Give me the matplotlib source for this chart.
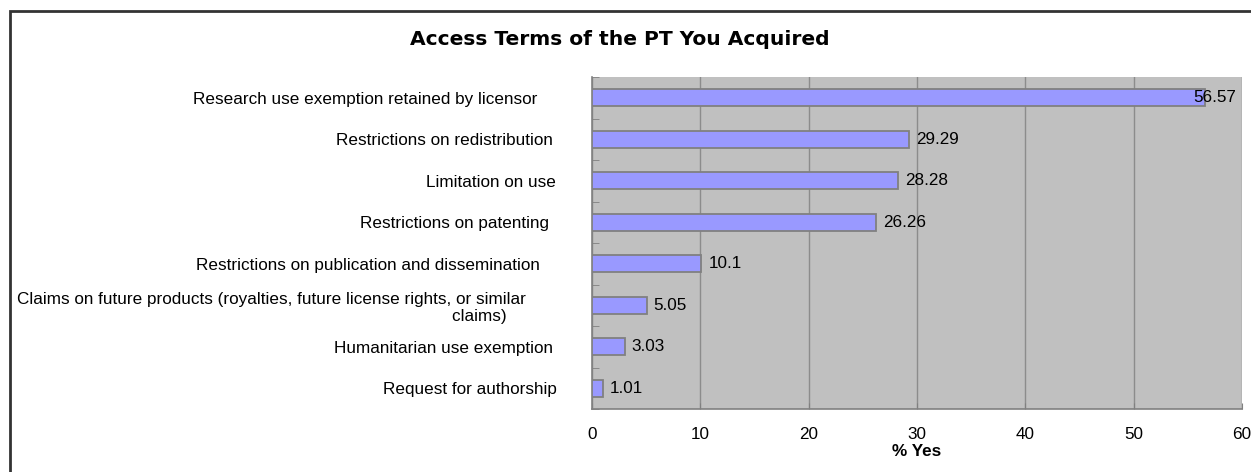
import matplotlib
matplotlib.use("Agg")
import matplotlib.pyplot as plt
from matplotlib.patches import Rectangle
import numpy as np

categories = [
    "Research use exemption retained by licensor",
    "Restrictions on redistribution",
    "Limitation on use",
    "Restrictions on patenting",
    "Restrictions on publication and dissemination",
    "Claims on future products (royalties, future license rights, or similar\nclaims)    ",
    "Humanitarian use exemption",
    "Request for authorship",
]
values = [56.57, 29.29, 28.28, 26.26, 10.1, 5.05, 3.03, 1.01]
value_labels = ["56.57", "29.29", "28.28", "26.26", "10.1", "5.05", "3.03", "1.01"]
xticks = [0, 10, 20, 30, 40, 50, 60]
title = "Access Terms of the PT You Acquired"
xlabel = "% Yes"

plt.rcParams['font.family'] = ['Liberation Sans', 'DejaVu Sans']
FS = 12.3

W, H = 1251, 472
fig = plt.figure(figsize=(W / 100, H / 100), dpi=100)
fig.patch.set_facecolor('white')

ax = fig.add_axes([592 / W, 1 - 409 / H, (1242 - 592) / W, (409 - 77) / H])
ax.set_facecolor('#C0C0C0')

n = len(categories)
y = np.arange(n)
ax.barh(y, values, height=0.4, color='#9999FF', edgecolor='#808080', linewidth=1.3, zorder=3)

ax.set_xlim(0, 60)
ax.set_ylim(n - 0.5, -0.5)
ax.set_xticks(xticks)
ax.set_xticklabels([str(t) for t in xticks], fontsize=FS)
ax.xaxis.grid(True, color='#8C8C8C', linewidth=1, zorder=1)
ax.tick_params(axis='x', direction='in', length=4, color='#808080', pad=13)

ax.set_yticks(y)
ax.set_yticklabels(categories, fontsize=FS)
ax.tick_params(axis='y', which='major', length=0)
ax.set_yticks(np.arange(n + 1) - 0.5, minor=True)
ax.tick_params(axis='y', which='minor', direction='in', length=5, color='#808080')

pads = [39.6, 28, 26, 31, 37.4, 47.5, 28, 25]
for tick, p in zip(ax.yaxis.get_major_ticks(), pads):
    tick.set_pad(p)
for lbl in ax.get_yticklabels():
    lbl.set_multialignment('right')

for s in ['top', 'right']:
    ax.spines[s].set_visible(False)
for s in ['left', 'bottom']:
    ax.spines[s].set_color('#808080')
    ax.spines[s].set_linewidth(1.2)

ax.set_xlabel(xlabel, fontsize=FS, fontweight='bold', labelpad=1.5)

fig.text(619.5 / W, 1 - 45 / H, title, ha='center', va='baseline',
         fontsize=14.6, fontweight='heavy', family=['DejaVu Sans'])

fig.patches.append(Rectangle((9.5 / W, -0.1), 1.2, 1 - 10.5 / H + 0.1,
                             transform=fig.transFigure, fill=False,
                             edgecolor='#333333', linewidth=2, clip_on=False))

# value labels: 7px right of bar end, kept inside plot area like the original
renderer = fig.canvas.get_renderer()
ax_right_px = ax.transData.transform((60, 0))[0]
for yi, v, t in zip(y, values, value_labels):
    bar_end = ax.transData.transform((v, yi))
    txt = ax.text(bar_end[0] + 7, bar_end[1], t, va='center', ha='left', fontsize=FS,
                  zorder=4, transform=None)
    bb = txt.get_window_extent(renderer)
    if bb.x1 > ax_right_px - 6:
        txt.set_x(bar_end[0] + 7 - (bb.x1 - (ax_right_px - 6)))

fig.savefig('out.png', dpi=100, facecolor='white')
